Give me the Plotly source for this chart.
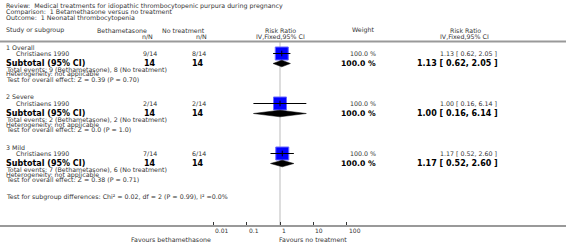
import numpy as np
import plotly.graph_objects as go

# ---------------- data ----------------
review = "Review:  Medical treatments for idiopathic thrombocytopenic purpura during pregnancy"
comparison = "Comparison:  1 Betamethasone versus no treatment"
outcome = "Outcome:  1 Neonatal thrombocytopenia"
groups = ["1 Overall", "2 Severe", "3 Mild"]
studies = ["Christiaens 1990", "Christiaens 1990", "Christiaens 1990"]
beta_events = [9, 2, 7]
beta_n = [14, 14, 14]
ctrl_events = [8, 2, 6]
ctrl_n = [14, 14, 14]
rr = [1.13, 1.00, 1.17]
rr_lo = [0.62, 0.16, 0.52]
rr_hi = [2.05, 6.14, 2.60]
weights = [100.0, 100.0, 100.0]
z_vals = ["0.39", "0.0", "0.38"]
p_vals = ["0.70", "1.0", "0.71"]
tick_vals = [0.01, 0.1, 1, 10, 100]
tick_text = ["0.01", "0.1", "1", "10", "100"]
subgroup_test = "Test for subgroup differences: Chi² = 0.02, df = 2 (P = 0.99), I² =0.0%"

# ---------------- layout helpers ----------------
W, H = 566, 249
AXIS_Y = 225          # pixel row of the bottom axis
X_ONE = 280           # pixel of RR = 1
PX_DEC = 33.4         # pixels per decade
FONT = "DejaVu Sans"
SMALL = 6.3
BOLD = 8
TXT = "#333333"

xr = [(0 - X_ONE) / PX_DEC, (W - X_ONE) / PX_DEC]

fig = go.Figure()
ann = []


def text(px, py, s, anchor="left", size=SMALL, bold=False, color=TXT):
    ann.append(dict(
        x=px / W, y=1 - py / H, xref="paper", yref="paper", text=(f"<b>{s}</b>" if bold else s),
        showarrow=False, xanchor=anchor, yanchor="middle",
        font=dict(family=FONT, size=size, color=color), align=anchor))


LX = 4
IND = 14

# titles
text(LX, 5.5, review)
text(LX, 11.5, comparison)
text(LX, 18, outcome)

# headers
HY1, HY2, LINE_Y = 30.5, 36.5, 41.5
text(LX, HY1, "Study or subgroup")
text(122, HY1, "Bethametasone", "center")
text(147, HY2, "n/N", "center")
text(183, HY1, "No treatment", "center")
text(201, HY2, "n/N", "center")
text(280, HY1, "Risk Ratio", "center")
text(280, HY2, "IV,Fixed,95% CI", "center")
text(363, HY1, "Weight", "center")
text(465, HY1, "Risk Ratio", "center")
text(464, HY2, "IV,Fixed,95% CI", "center")

# vertical line at RR = 1
fig.add_trace(go.Scatter(x=[1, 1], y=[LINE_Y, AXIS_Y], mode="lines",
                         line=dict(color="#dddddd", width=2), hoverinfo="skip", showlegend=False))

for i, g in enumerate(groups):
    y0 = 47 + 50 * i
    ys = y0 + 6.5
    ysub = y0 + 16.5
    text(LX, y0, g)
    text(IND, ys, studies[i])
    text(159, ys, f"{beta_events[i]}/{beta_n[i]}", "right")
    text(208, ys, f"{ctrl_events[i]}/{ctrl_n[i]}", "right")
    text(378, ys, f"{weights[i]:.1f} %", "right")
    text(499, ys, f"{rr[i]:.2f} [ {rr_lo[i]:.2f}, {rr_hi[i]:.2f} ]", "right")

    text(LX, ysub, "Subtotal (95% CI)", size=BOLD, bold=True, color="#000")
    text(158, ysub, f"{beta_n[i]}", "right", size=BOLD, bold=True, color="#000")
    text(206, ysub, f"{ctrl_n[i]}", "right", size=BOLD, bold=True, color="#000")
    text(378, ysub, f"{weights[i]:.1f} %", "right", size=BOLD - 0.3, bold=True, color="#000")
    text(500, ysub, f"{rr[i]:.2f} [ {rr_lo[i]:.2f}, {rr_hi[i]:.2f} ]", "right", size=BOLD, bold=True, color="#000")

    text(LX, ysub + 6, f"Total events: {beta_events[i]} (Bethametasone), {ctrl_events[i]} (No treatment)")
    text(LX, ysub + 11, "Heterogeneity: not applicable")
    text(LX, ysub + 16, f"Test for overall effect: Z = {z_vals[i]} (P = {p_vals[i]})")

    # study square + CI
    fig.add_trace(go.Scatter(x=[rr[i]], y=[ys], mode="markers",
                             marker=dict(symbol="square", size=13, color="#0000ff",
                                         line=dict(color="#6b6bff", width=1)),
                             hoverinfo="skip", showlegend=False))
    fig.add_trace(go.Scatter(x=[rr_lo[i], rr_hi[i]], y=[ys, ys], mode="lines",
                             line=dict(color="#000", width=1), hoverinfo="skip", showlegend=False))
    fig.add_trace(go.Scatter(x=[rr[i]], y=[ys], mode="markers",
                             marker=dict(symbol="line-ns", size=4, line=dict(color="#000", width=1)),
                             hoverinfo="skip", showlegend=False))
    # subtotal diamond
    fig.add_trace(go.Scatter(x=[rr_lo[i], rr[i], rr_hi[i], rr[i], rr_lo[i]],
                             y=[ysub, ysub - 3.3, ysub, ysub + 3.3, ysub],
                             mode="lines", fill="toself", fillcolor="#000",
                             line=dict(color="#000", width=0.5), hoverinfo="skip", showlegend=False))

text(LX, 197, subgroup_test)

# tick labels (left aligned at the tick) and favours labels
for tv, tt in zip(tick_vals, tick_text):
    ann.append(dict(x=np.log10(tv), y=1 - 230 / H, xref="x", yref="paper", text=tt,
                    showarrow=False, xanchor="left", yanchor="middle",
                    font=dict(family=FONT, size=6, color=TXT)))
text(213, 239, "Favours bethamethasone", "right")
text(277, 239, "Favours no treatment", "left")

# header separator line
shapes = [dict(type="line", xref="paper", yref="y", x0=0, x1=1, y0=LINE_Y, y1=LINE_Y,
               line=dict(color="#999999", width=2))]

fig.update_layout(
    width=W, height=H, margin=dict(l=0, r=0, t=0, b=0),
    paper_bgcolor="white", plot_bgcolor="white",
    annotations=ann, shapes=shapes, showlegend=False,
    xaxis=dict(type="log", range=xr, domain=[0, 1], showline=True, linecolor="#999999", linewidth=2,
               ticks="inside", ticklen=3, tickcolor="#333", tickwidth=1,
               tickvals=tick_vals, showticklabels=False, showgrid=False, zeroline=False, fixedrange=True),
    yaxis=dict(range=[AXIS_Y, 0], domain=[(H - AXIS_Y) / H, 1], visible=False,
               showgrid=False, zeroline=False, fixedrange=True),
)

fig.write_html("out.html", config={"displayModeBar": False},
               post_script="document.body.style.margin='0';document.body.style.overflow='hidden';")
